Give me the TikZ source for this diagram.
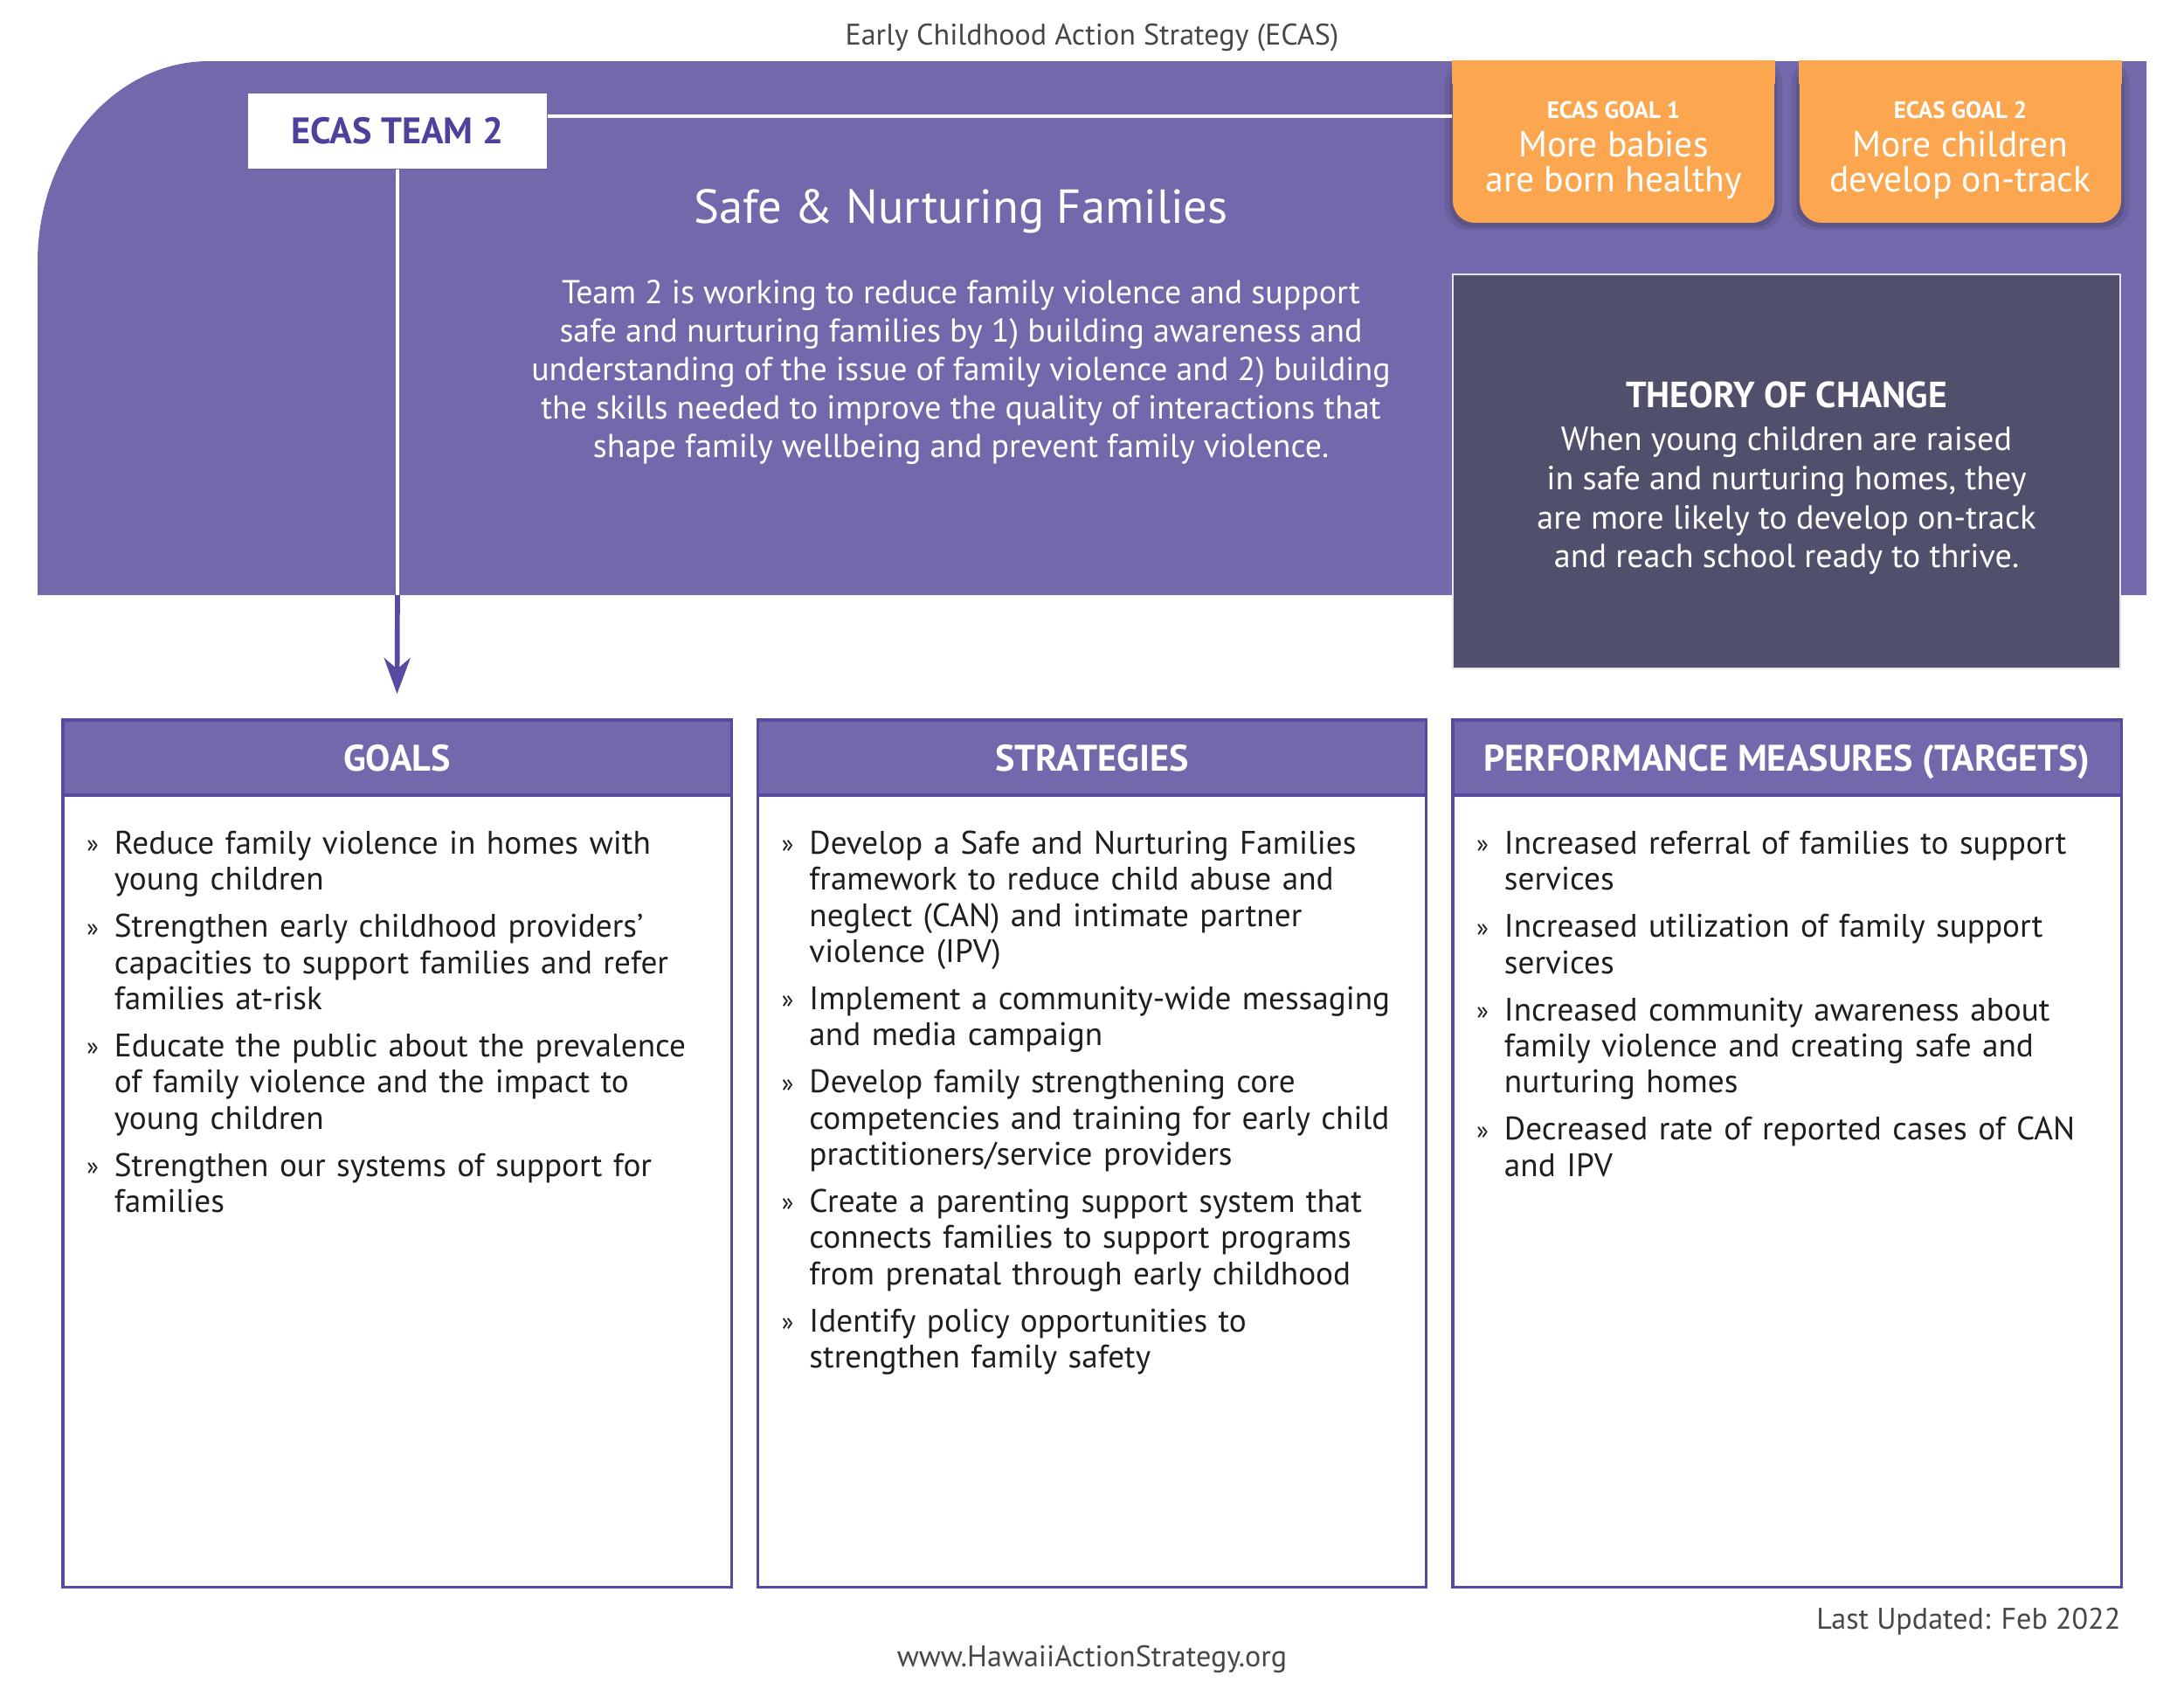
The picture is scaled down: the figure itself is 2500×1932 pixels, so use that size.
\documentclass[tikz,border=0pt]{standalone}
\usepackage{fontspec}
\setmainfont{PT Sans}
\usetikzlibrary{shadows,arrows.meta}

\definecolor{bannerpurple}{HTML}{7268AB}
\definecolor{edgepurple}{HTML}{574AA0}
\definecolor{teampurple}{HTML}{4E409B}
\definecolor{goalorange}{HTML}{FCA750}
\definecolor{tocslate}{HTML}{50506C}
\definecolor{bodyink}{HTML}{1E1E1E}
\definecolor{footgray}{HTML}{474747}

% bullet line with hanging indent
\newcommand{\bul}[1]{\par\begingroup\let\\\newline\hangindent=10pt\hangafter=1\noindent
	\makebox[10pt][l]{\raisebox{.5pt}{\fontsize{9}{9}\selectfont »}}#1\par\endgroup\vspace{4pt}}

\tikzset{
	wline/.style={white, line width=1.3pt},
	teambox/.style={fill=white, minimum width=108.3pt, minimum height=27.2pt, inner sep=0pt,
		text=teampurple, font=\fontsize{13.4}{15}\selectfont\bfseries},
	goalbox/.style={fill=goalorange, rounded corners=8pt, minimum width=116.6pt, minimum height=58.6pt,
		inner sep=0pt, general shadow={fill=black, opacity=.08, shadow scale=1.05, shadow yshift=-1pt},
		general shadow={fill=black, opacity=.12, shadow scale=1.02, shadow yshift=-1pt}},
	goaltext/.style={text=white, align=center, inner sep=0pt, font=\fontsize{13.2}{12.6}\selectfont},
	colframe/.style={draw=edgepurple, line width=1pt, minimum width=242.4pt, minimum height=314.3pt, inner sep=0pt},
	colhead/.style={draw=edgepurple, line width=1pt, fill=bannerpurple, minimum width=242.4pt, minimum height=27.2pt,
		inner sep=0pt, text depth=0pt, text=white, font=\fontsize{13.4}{15}\selectfont\bfseries},
	colbody/.style={anchor=north west, text width=232pt, align=left, inner sep=0pt, text=bodyink,
		font=\fontsize{11.8}{13.1}\selectfont},
	foot/.style={text=footgray, font=\fontsize{10.8}{12}\selectfont},
}

\begin{document}
\begin{tikzpicture}[x=0.3168pt, y=-0.3168pt]

\useasboundingbox (0,0) rectangle (2500,1932);

% BANNER
\fill [bannerpurple] (43,681) -- (43,300) .. controls (43,173) and (131,70) .. (239,70) -- (2457,70) -- (2457,681) -- cycle;

\node [foot] (ecas) at (1250,43) {Early Childhood Action Strategy (ECAS)};

% TEAM
\node [teambox] (team) at (455,150) {ECAS TEAM 2};
\coordinate (bend) at (455,681);

% ECAS GOALS
\node [goalbox] (g1) at (1847,162.5) {};
\node [goalbox] (g2) at (2244,162.5) {};
\fill [goalorange] (g1.north west) rectangle ([yshift=-8.5pt]g1.north east);
\fill [goalorange] (g2.north west) rectangle ([yshift=-8.5pt]g2.north east);
\node [goaltext] (g1t) at (1847,172) {\fontsize{8.6}{9}\selectfont\bfseries ECAS GOAL 1\\[1.5pt]
	More babies\\are born healthy};
\node [goaltext] (g2t) at (2244,172) {\fontsize{8.6}{9}\selectfont\bfseries ECAS GOAL 2\\[1.5pt]
	More children\\develop on-track};

\draw [wline] ([yshift=5.4pt]team.east) -- ([yshift=5.4pt]team.east -| g1.west);

% TITLE
\node [text=white, font=\fontsize{17.3}{19}\selectfont] (title) at (1100,242) {Safe \& Nurturing Families};
\node [text=white, align=center, font=\fontsize{12}{14}\selectfont] (about) at (1100,426)
	{Team 2 is working to reduce family violence and support\\
	safe and nurturing families by 1) building awareness and\\
	understanding of the issue of family violence and 2) building\\
	the skills needed to improve the quality of interactions that\\
	shape family wellbeing and prevent family violence.};

% THEORY OF CHANGE
\node [fill=tocslate, draw=white!85!tocslate, line width=.6pt, minimum width=242pt, minimum height=142.9pt,
	inner sep=0pt] (toc) at (2045,539.5) {};
\node [text=white, align=center, font=\fontsize{12.1}{14.1}\selectfont] (toct) at (2045,547)
	{\fontsize{13.2}{14}\selectfont\bfseries THEORY OF CHANGE\\[1.6pt]
	When young children are raised\\
	in safe and nurturing homes, they\\
	are more likely to develop on-track\\
	and reach school ready to thrive.};

% COLUMNS
\node [colframe] (goals) at (454.5,1320) {};
\node [colframe] (strat) at (1250,1320) {};
\node [colframe] (perf) at (2045.5,1320) {};
\node [colhead] (goalshead) at (454.5,867) {GOALS};
\node [colhead] (strathead) at (1250,867) {STRATEGIES};
\node [colhead] (perfhead) at (2045.5,867) {PERFORMANCE MEASURES (TARGETS)};

% ARROW
\draw [wline] (team.south) -- (bend);
\draw [edgepurple, line width=1.8pt, -{Stealth[length=13pt, width=9.5pt, inset=4pt]}] (bend) -- ([yshift=9pt]goalshead.north);

% LISTS
\node [colbody] (goalslist) at ([xshift=9pt, yshift=-7.6pt]goalshead.south west) {%
	\bul{Reduce family violence in homes with\\young children}
	\bul{Strengthen early childhood providers’\\capacities to support families and refer\\families at-risk}
	\bul{Educate the public about the prevalence\\of family violence and the impact to\\young children}
	\bul{Strengthen our systems of support for\\families}};
\node [colbody] (stratlist) at ([xshift=9pt, yshift=-7.6pt]strathead.south west) {%
	\bul{Develop a Safe and Nurturing Families\\framework to reduce child abuse and\\neglect (CAN) and intimate partner\\violence (IPV)}
	\bul{Implement a community-wide messaging\\and media campaign}
	\bul{Develop family strengthening core\\competencies and training for early child\\practitioners/service providers}
	\bul{Create a parenting support system that\\connects families to support programs\\from prenatal through early childhood}
	\bul{Identify policy opportunities to\\strengthen family safety}};
\node [colbody] (perflist) at ([xshift=9pt, yshift=-7.6pt]perfhead.south west) {%
	\bul{Increased referral of families to support\\services}
	\bul{Increased utilization of family support\\services}
	\bul{Increased community awareness about\\family violence and creating safe and\\nurturing homes}
	\bul{Decreased rate of reported cases of CAN\\and IPV}};

% FOOTER
\node [foot, anchor=east, inner sep=0pt] (updated) at (2428,1856) {Last Updated: Feb 2022};
\node [foot] (web) at (1250,1899) {www.HawaiiActionStrategy.org};

\end{tikzpicture}
\end{document}
